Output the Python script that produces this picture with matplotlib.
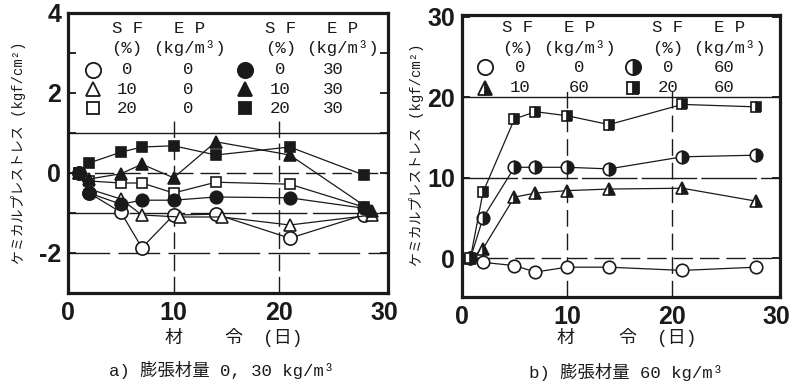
import matplotlib
matplotlib.use("Agg")
import matplotlib.pyplot as plt

plt.rcParams["axes.unicode_minus"] = False

# Fonts
MIXED = ["Liberation Mono", "Noto Sans CJK JP"]
TICKFONT = "Liberation Sans"
LEGFONT = ["Liberation Mono", "Noto Sans CJK JP"]
INK = "#1a1a1a"

# Age (days) and chemical prestress (kgf/cm2), panel a
days_a = [1, 2, 5, 7, 10, 14, 21, 28]
sf0_ep0_a = [0.0, -0.5, -0.98, -1.87, -1.05, -1.03, -1.63, -1.05]
days_tri_a = [1, 2, 5, 7, 10.6, 14.6, 21, 28.8]
sf10_ep0_a = [0.0, -0.4, -0.65, -1.05, -1.1, -1.1, -1.3, -1.05]
sf20_ep0_a = [0.0, -0.2, -0.25, -0.25, -0.5, -0.23, -0.28, -0.85]
sf0_ep30_a = [0.0, -0.5, -0.78, -0.68, -0.68, -0.6, -0.62, -0.88]
days_tri30_a = [1, 2, 5, 7, 10, 14, 21, 28.8]
sf10_ep30_a = [0.0, -0.15, -0.02, 0.22, -0.12, 0.78, 0.45, -0.95]
sf20_ep30_a = [0.0, 0.25, 0.52, 0.65, 0.68, 0.45, 0.65, -0.05]

# Panel b
days_b = [0.8, 2, 5, 7, 10, 14, 21, 28]
sf0_ep0_b = [0.0, -0.5, -0.9, -1.7, -1.1, -1.1, -1.5, -1.1]
sf10_ep60_b = [0.0, 1.2, 7.6, 8.1, 8.4, 8.6, 8.7, 7.1]
sf0_ep60_b = [0.0, 5.0, 11.3, 11.3, 11.3, 11.1, 12.6, 12.8]
sf20_ep60_b = [0.0, 8.2, 17.3, 18.2, 17.7, 16.6, 19.1, 18.8]

xticks = [0, 10, 20, 30]
yticks_a = [-2, 0, 2, 4]
yticks_b = [0, 10, 20, 30]

fig = plt.figure(figsize=(7.97, 3.82), dpi=100)
fig.patch.set_facecolor("white")
ax1 = fig.add_axes([68 / 797, 89 / 382, 320 / 797, 280 / 382])
ax2 = fig.add_axes([462 / 797, 85 / 382, 318 / 797, 282 / 382])


def frame(ax, yt):
    for s in ax.spines.values():
        s.set_linewidth(2.3)
        s.set_color(INK)
    ax.set_xticks(xticks)
    ax.set_yticks(yt)
    ax.tick_params(axis="x", length=0, pad=6)
    ax.tick_params(axis="y", direction="in", length=6, width=1.2, left=True,
                   right=True, pad=5)
    for lab in ax.get_xticklabels() + ax.get_yticklabels():
        lab.set_fontfamily(TICKFONT)
        lab.set_fontweight("bold")
        lab.set_fontsize(18)
        lab.set_color(INK)


def series(ax, x, y, marker, fill="full", face="white", ms=7.5):
    ax.plot(x, y, color=INK, lw=0.9, marker=marker, ms=ms,
            markerfacecolor=face, markeredgecolor=INK, markeredgewidth=1.2,
            fillstyle=fill, markerfacecoloralt="white", zorder=3)


def leg_marker(ax, x, y, marker, fill="full", face="white", ms=10):
    ax.plot([x], [y], marker=marker, ms=ms, markerfacecolor=face,
            markeredgecolor=INK, markeredgewidth=1.3, fillstyle=fill,
            markerfacecoloralt="white", ls="none", zorder=3)


def leg_text(ax, x, y, s, size=12.5):
    ax.text(x, y, s, ha="center", va="center", fontsize=size,
            family=LEGFONT, color=INK)


# ---- panel a ----
ax1.set_xlim(0, 30.3)
ax1.set_ylim(-3, 4)
ax1.set_yticks(range(-3, 5), minor=True)
ax1.tick_params(axis="y", which="minor", direction="in", length=6,
                width=1.2, left=True, right=True)
ax1.axhline(1, color=INK, lw=1.0)
ax1.axhline(0, color=INK, lw=1.0, dashes=(14, 5))
ax1.axhline(-1, color=INK, lw=1.0, dashes=(40, 4))
ax1.axhline(-2, color=INK, lw=1.0, dashes=(30, 6))
for xv in (10, 20):
    ax1.plot([xv, xv], [-3, 1.3], color=INK, lw=1.0, dashes=(12, 4))

series(ax1, days_a, sf0_ep0_a, "o", ms=9.5)
series(ax1, days_tri_a, sf10_ep0_a, "^", ms=8.5)
series(ax1, days_a, sf20_ep0_a, "s", ms=7.5)
series(ax1, days_a, sf0_ep30_a, "o", face=INK, ms=9)
series(ax1, days_tri30_a, sf10_ep30_a, "^", face=INK, ms=8.5)
series(ax1, days_a, sf20_ep30_a, "s", face=INK, ms=7.5)

for xh, xv in ((5.6, 11.5), (20.1, 26.0)):
    leg_text(ax1, xh, 3.62, "S F")
    leg_text(ax1, xv, 3.62, "E P")
    leg_text(ax1, xh, 3.12, "(%)")
    leg_text(ax1, xv, 3.12, "(kg/m³)")
rows_a = [2.58, 2.1, 1.62]
leg_marker(ax1, 2.4, rows_a[0], "o", ms=11)
leg_marker(ax1, 2.4, rows_a[1], "^")
leg_marker(ax1, 2.4, rows_a[2], "s", ms=9)
leg_marker(ax1, 16.8, rows_a[0], "o", face=INK, ms=11)
leg_marker(ax1, 16.8, rows_a[1], "^", face=INK)
leg_marker(ax1, 16.8, rows_a[2], "s", face=INK, ms=9)
for r, sf in zip(rows_a, ["0", "10", "20"]):
    leg_text(ax1, 5.6, r, sf)
    leg_text(ax1, 11.4, r, "0")
    leg_text(ax1, 20.1, r, sf)
    leg_text(ax1, 25.1, r, "30")
frame(ax1, yticks_a)

# ---- panel b ----
ax2.set_xlim(0, 30.3)
ax2.set_ylim(-4.8, 30.2)
ax2.axhline(20, color=INK, lw=1.0)
ax2.axhline(10, color=INK, lw=1.0, dashes=(40, 3))
ax2.axhline(0, color=INK, lw=1.0, dashes=(14, 5))
for xv in (10, 20):
    ax2.plot([xv, xv], [-4.8, 20.8], color=INK, lw=1.0, dashes=(12, 5))

series(ax2, days_b, sf0_ep0_b, "o", ms=9)
series(ax2, days_b, sf10_ep60_b, "^", fill="right", face=INK, ms=8)
series(ax2, days_b, sf0_ep60_b, "o", fill="right", face=INK, ms=9)
series(ax2, days_b, sf20_ep60_b, "s", fill="right", face=INK, ms=7)

for xh, xv in ((5.3, 11.2), (19.6, 25.5)):
    leg_text(ax2, xh, 28.7, "S F")
    leg_text(ax2, xv, 28.7, "E P")
    leg_text(ax2, xh, 26.1, "(%)")
    leg_text(ax2, xv, 26.1, "(kg/m³)")
leg_marker(ax2, 2.2, 23.7, "o", ms=11)
leg_marker(ax2, 2.2, 21.2, "^", fill="right", face=INK)
leg_marker(ax2, 16.3, 23.7, "o", fill="right", face=INK, ms=11)
leg_marker(ax2, 16.3, 21.2, "s", fill="right", face=INK, ms=9)
leg_text(ax2, 5.5, 23.7, "0")
leg_text(ax2, 11.2, 23.7, "0")
leg_text(ax2, 5.5, 21.2, "10")
leg_text(ax2, 11.2, 21.2, "60")
leg_text(ax2, 19.6, 23.7, "0")
leg_text(ax2, 25.0, 23.7, "60")
leg_text(ax2, 19.6, 21.2, "20")
leg_text(ax2, 25.0, 21.2, "60")
frame(ax2, yticks_b)

# axis titles and captions
ylab = "ケミカルプレストレス (kgf/cm²)"
fig.text(19 / 797, 1 - 153 / 382, ylab, rotation=90, ha="center",
         va="center", fontsize=10, family=MIXED, color=INK)
fig.text(416 / 797, 1 - 155 / 382, ylab, rotation=90, ha="center",
         va="center", fontsize=10, family=MIXED, color=INK)

for parts in ((173, 233, 283), (565, 627, 677)):
    for xp, s in zip(parts, ("材", "令", "(日)")):
        fig.text(xp / 797, 1 - 338 / 382, s, ha="center", va="center",
                 fontsize=13, family=MIXED, color=INK)

fig.text(222 / 797, 1 - 370 / 382, "a) 膨張材量 0, 30 kg/m³", ha="center",
         va="center", fontsize=12.5, family=MIXED, color=INK)
fig.text(626 / 797, 1 - 372 / 382, "b) 膨張材量 60 kg/m³", ha="center",
         va="center", fontsize=12.5, family=MIXED, color=INK)

fig.savefig("out.png", dpi=100, facecolor="white")
